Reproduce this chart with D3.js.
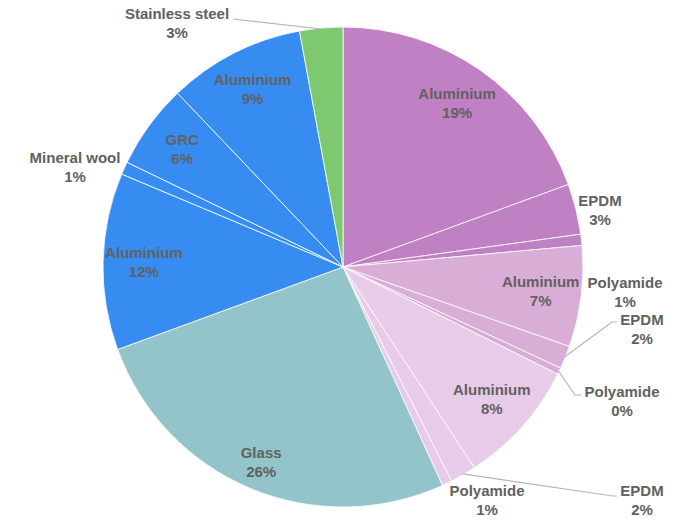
<!DOCTYPE html>
<html><head><meta charset="utf-8">
<script src="https://cdn.jsdelivr.net/npm/d3@7"></script>
<style>body{margin:0;background:#fff}svg{display:block}</style>
</head><body>
<svg id="c" width="684" height="520"></svg>
<script>
const categories = ["Aluminium","EPDM","Polyamide","Aluminium","EPDM","Polyamide","Aluminium","EPDM","Polyamide","Glass","Aluminium","Mineral wool","GRC","Aluminium","Stainless steel"];
const values = [19.4,3.4,0.75,6.8,1.55,0.45,8.4,1.75,0.67,26.2,11.9,0.86,5.7,9.2,2.9];
const colors = ["#c080c4","#c080c4","#c080c4","#d8aed7","#d8aed7","#d8aed7","#e8cbe8","#e8cbe8","#e8cbe8","#93c4ca","#378cf1","#378cf1","#378cf1","#378cf1","#7ec86f"];
const insideLabels = [true,false,false,true,false,false,true,false,false,true,true,false,true,true,false];

const svg = d3.select("#c");
const cx = 343, cy = 267, R = 240;
const g = svg.append("g").attr("transform", `translate(${cx},${cy})`);
const total = d3.sum(values);
const pie = d3.pie().value(d => d).sort(null);
const arcs = pie(values);
const arc = d3.arc().innerRadius(0).outerRadius(R);

g.selectAll("path").data(arcs).join("path")
  .attr("d", arc)
  .attr("fill", (d,i) => colors[i])
  .attr("stroke", "#fff").attr("stroke-width", 0.8);

const pct = v => Math.round(v / total * 100) + "%";
const txtColor = "#616161";
const font = "'Liberation Sans', Arial, sans-serif";

function label(x, y, i) {
  const t = g.append("text").attr("text-anchor","middle")
    .attr("font-family", font).attr("font-size", 15).attr("font-weight","bold")
    .attr("fill", txtColor);
  t.append("tspan").attr("x", x).attr("y", y - 9.5).attr("dy","0.35em").text(categories[i]);
  t.append("tspan").attr("x", x).attr("y", y + 9.5).attr("dy","0.35em").text(pct(values[i]));
}

// inside labels
const labArc = d3.arc().innerRadius(R*0.83).outerRadius(R*0.83);
arcs.forEach((d,i) => {
  if (!insideLabels[i]) return;
  let [x,y] = labArc.centroid(d);
  if (categories[i] === "Glass") { const k = 212/(R*0.83); x*=k; y*=k; }
  label(x, y, i);
});

// outside labels: layout offsets relative to the pie centre
const outside = {
  1: {pos:[257,-57]},
  2: {pos:[282,25]},
  4: {pos:[299,62], elbow:[269,55], end:[274,55]},
  5: {pos:[279,134], elbow:[232,128], end:[238,128]},
  7: {pos:[299,233], elbow:[270,229], end:[274,229]},
  8: {pos:[144,233]},
  11:{pos:[-268,-100]},
  14:{pos:[-166,-244], elbow:[-110,-248], end:[-110,-248]}
};
const edge = d3.arc().innerRadius(R-1).outerRadius(R-1);
Object.keys(outside).forEach(k => {
  const i = +k, o = outside[k], d = arcs[i];
  if (o.elbow) {
    const p = edge.centroid(d);
    g.append("polyline")
      .attr("points", [p, o.elbow, o.end].map(q => q.join(",")).join(" "))
      .attr("fill","none").attr("stroke","#b5b5b5").attr("stroke-width",1.2);
  }
  label(o.pos[0], o.pos[1], i);
});
</script>
</body></html>
